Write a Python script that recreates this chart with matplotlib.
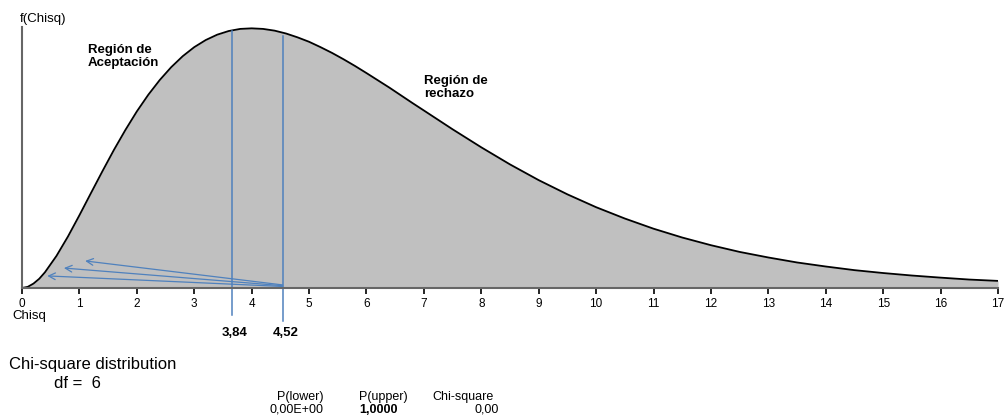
import numpy as np
from matplotlib import pyplot as plt

plt.rcParams['font.family'] = ['Liberation Sans', 'DejaVu Sans']

# density (df = 6)
chisq = [0, 0.1, 0.2, 0.3, 0.4, 0.6, 0.8, 1.0, 1.2, 1.4, 1.6, 1.8, 2.0, 2.2,
         2.4, 2.6, 2.8, 3.0, 3.2, 3.4, 3.6, 3.8, 4.0, 4.2, 4.4, 4.6, 4.8,
         5.0, 5.2, 5.4, 5.6, 5.8, 6.0, 6.2, 6.4, 6.6, 6.8, 7.0, 7.5, 8.0,
         8.5, 9.0, 9.5, 10, 10.5, 11, 11.5, 12, 12.5, 13, 13.5, 14, 14.5,
         15, 15.5, 16, 16.5, 17]
dens = [0, 0.0006, 0.0023, 0.0048, 0.0082, 0.0167, 0.0268, 0.0379, 0.0494,
        0.0608, 0.0719, 0.0823, 0.0920, 0.1007, 0.1084, 0.1151, 0.1208,
        0.1255, 0.1292, 0.1320, 0.1339, 0.1350, 0.1353, 0.1350, 0.1341,
        0.1326, 0.1306, 0.1283, 0.1255, 0.1225, 0.1192, 0.1157, 0.1120,
        0.1082, 0.1044, 0.1004, 0.0964, 0.0925, 0.0827, 0.0733, 0.0644,
        0.0562, 0.0488, 0.0421, 0.0362, 0.0309, 0.0263, 0.0223, 0.0188,
        0.0159, 0.0133, 0.0112, 0.0093, 0.0078, 0.0065, 0.0054, 0.0044,
        0.0037]
xticks = list(range(0, 18))

# blue marker lines and their labels
line_x = [3.65, 4.54]
line_top = [0.1339, 0.1313]
line_bottom = [-0.0141, -0.0172]
line_labels = ['3,84', '4,52']

# arrows from the 4,52 line back toward the origin
arrow_start = [(4.54, 0.0016), (4.54, 0.0012), (4.54, 0.0008)]
arrow_end = [(1.10, 0.0141), (0.73, 0.0104), (0.44, 0.0063)]

blue = '#4F81BD'

fig = plt.figure(figsize=(10.08, 4.17), dpi=100)
ax = fig.add_axes([22/1008, 1 - 288/417, 976/1008, 261/417])

ax.fill_between(chisq, dens, 0, color='#C0C0C0', lw=0)
ax.plot(chisq, dens, color='black', lw=1.3, solid_capstyle='butt')

ax.set_xlim(0, 17)
ax.set_ylim(0, 0.136)
ax.set_xticks(xticks)
ax.set_yticks([])
ax.tick_params(axis='x', length=4, width=1.2, color='black', pad=3, labelsize=8.5)
for s in ['top', 'right']:
    ax.spines[s].set_visible(False)
for s in ['left', 'bottom']:
    ax.spines[s].set_color('#666666')
    ax.spines[s].set_linewidth(1.5)

for x, t, b in zip(line_x, line_top, line_bottom):
    ax.plot([x, x], [b, t], color=blue, lw=1.1, clip_on=False)
for x, lab in zip(line_x, line_labels):
    ax.annotate(lab, xy=(x, 0), xycoords='data', xytext=(x + 0.05, -0.0235),
                textcoords='data', ha='center', va='center',
                fontsize=9.5, fontweight='bold', annotation_clip=False)

for (x0, y0), (x1, y1) in zip(arrow_start, arrow_end):
    ax.annotate('', xy=(x1, y1), xytext=(x0, y0),
                arrowprops=dict(arrowstyle='->', color=blue, lw=0.9,
                                mutation_scale=12, shrinkA=0, shrinkB=0))

ax.text(1.15, 0.1205, 'Región de\nAceptación', fontsize=9.5, fontweight='bold',
        ha='left', va='center', linespacing=1.15)
ax.text(7.0, 0.1045, 'Región de\nrechazo', fontsize=9.5, fontweight='bold',
        ha='left', va='center', linespacing=1.15)

fig.text(20/1008, 1 - 19/417, 'f(Chisq)', fontsize=9.5, ha='left', va='center')
fig.text(12/1008, 1 - 316/417, 'Chisq', fontsize=9.5, ha='left', va='center')

fig.text(9/1008, 1 - 365/417, 'Chi-square distribution', fontsize=12,
         ha='left', va='center')
fig.text(54/1008, 1 - 383/417, 'df =  6', fontsize=12, ha='left', va='center')

fig.text(324/1008, 1 - 397/417, 'P(lower)', fontsize=9, ha='right', va='center')
fig.text(359/1008, 1 - 397/417, 'P(upper)', fontsize=9, ha='left', va='center')
fig.text(432/1008, 1 - 397/417, 'Chi-square', fontsize=9, ha='left', va='center')
fig.text(324/1008, 1 - 410/417, '0,00E+00', fontsize=9, ha='right', va='center')
fig.text(359/1008, 1 - 410/417, '1,0000', fontsize=9, fontweight='bold',
         ha='left', va='center')
fig.text(499/1008, 1 - 410/417, '0,00', fontsize=9, ha='right', va='center')

fig.savefig('out.png', dpi=100)
